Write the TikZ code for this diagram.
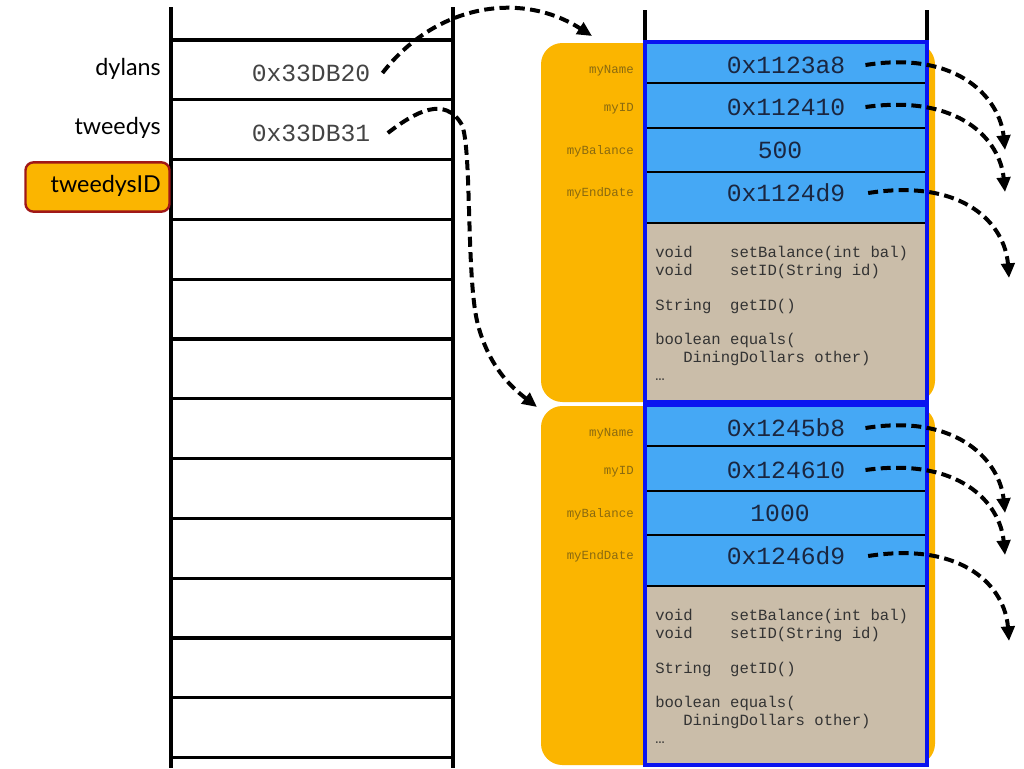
\documentclass[tikz,border=0pt]{standalone}
\usepackage{fontspec}
\setmainfont{Lato}
\newfontfamily\cour{Liberation Mono}
\usetikzlibrary{arrows.meta}
\definecolor{orng}{HTML}{FBB500}
\definecolor{fblue}{HTML}{45A8F5}
\definecolor{bblue}{HTML}{0A14F0}
\definecolor{tanc}{HTML}{CABDA9}
\definecolor{dred}{HTML}{A01818}
\definecolor{lblc}{HTML}{8A6A10}
\definecolor{valc}{HTML}{1A2640}
\definecolor{stkc}{HTML}{444444}
\definecolor{methc}{HTML}{333333}
\tikzset{
  stackline/.style={line width=2.3pt, black},
  seprow/.style={line width=2.2pt, black},
  lbl/.style={font=\fontsize{17.5}{20}\selectfont, anchor=east, inner sep=0pt},
  stkval/.style={font=\cour\fontsize{18.5}{20}\selectfont, text=stkc, inner sep=0pt},
  objval/.style={font=\cour\fontsize{18.5}{20}\selectfont, text=valc, inner sep=0pt},
  fld/.style={font=\cour\fontsize{9.3}{11}\selectfont, text=lblc, anchor=east, inner sep=0pt},
  meth/.style={font=\cour\fontsize{11.7}{13.7}\selectfont, text=methc, align=left, anchor=north west, inner sep=0pt},
  idbox/.style={draw=dred, fill=orng, line width=1.8pt, rounded corners=6pt, minimum width=108pt, minimum height=37pt, inner sep=0pt},
  ptr/.style={line width=3pt, dash pattern=on 7.5pt off 4pt, -{Triangle[length=11pt,width=10pt]}},
}
\begin{document}
\begin{tikzpicture}[x=0.75pt,y=-0.75pt]
\useasboundingbox (0,0) rectangle (1024,768);
\fill[white] (0,0) rectangle (1024,768);
% stack
\draw[stackline] (171,7) -- (171,768);
\draw[stackline] (453,7) -- (453,768);
\foreach \k in {0,...,12}
  \draw[stackline] (171,{40+59.8*\k}) -- (453,{40+59.8*\k});
\node[lbl] (dylans) at (161,69) {dylans};
\node[lbl] (tweedys) at (161,128) {tweedys};
\node[idbox] (tidbox) at (97.5,187) {};
\node[lbl] (tid) at (161,186) {tweedysID};
\node[stkval] (v1) at (311,73) {0x33DB20};
\node[stkval] (v2) at (311,133) {0x33DB31};
% heap column lines
\draw[stackline] (645,10) -- (645,42);
\draw[stackline] (927,10) -- (927,42);
% objects
\foreach \o/\n/\va/\vb/\vc/\vd in {0/1/0x1123a8/0x112410/500/0x1124d9, 363/2/0x1245b8/0x124610/1000/0x1246d9}{
  \fill[orng, rounded corners=16pt] (541,{43+\o}) rectangle (935,{402+\o});
  \fill[fblue] (645,{42+\o}) rectangle (927,{223+\o});
  \fill[tanc] (645,{223+\o}) rectangle (927,{402+\o});
  \foreach \yy in {83,128,172,223}
    \draw[seprow] (645,{\yy+\o}) -- (927,{\yy+\o});
  \draw[line width=3pt, bblue] (645,{42+\o}) rectangle (927,{402+\o});
  \node[fld] (fa\n) at (634,{71+\o}) {myName};
  \node[fld] (fb\n) at (634,{109+\o}) {myID};
  \node[fld] (fc\n) at (634,{151+\o}) {myBalance};
  \node[fld] (fd\n) at (634,{193+\o}) {myEndDate};
  \node[objval] (va\n) at (786,{65+\o}) {\va};
  \node[objval] (vb\n) at (786,{107+\o}) {\vb};
  \node[objval] (vc\n) at (780,{150+\o}) {\vc};
  \node[objval] (vd\n) at (786,{193+\o}) {\vd};
  \node[meth] (m\n) at (655,{246+\o}) {void\ \ \ \ setBalance(int bal)\\void\ \ \ \ setID(String id)\\[12pt]String\ \ getID()\\[12pt]boolean equals(\\\ \ \ DiningDollars other)\\…};
  \coordinate (ta\n) at (1005,{150+\o});
  \coordinate (tb\n) at (1005,{192+\o});
  \coordinate (tc\n) at (1009,{278+\o});
  \draw[ptr] ([xshift=15pt]va\n.east) .. controls (960,{50+\o}) and (1000,{100+\o}) .. (ta\n);
  \draw[ptr] ([xshift=15pt]vb\n.east) .. controls (960,{94+\o}) and (1000,{140+\o}) .. (tb\n);
  \draw[ptr] ([xshift=17pt]vd\n.east) .. controls (965,{178+\o}) and (1005,{225+\o}) .. (tc\n);
}
% pointers from stack
\coordinate (o1) at (592,36);
\coordinate (o2) at (537,407);
\draw[ptr] ([xshift=9pt]v1.east) .. controls (435,5) and (520,-10) .. (o1);
\draw[ptr] ([xshift=13pt]v2.east) .. controls (415,112) and (445,95) .. (462,125) .. controls (472,150) and (466,280) .. (478,325) .. controls (490,370) and (515,390) .. (o2);
\end{tikzpicture}
\end{document}
